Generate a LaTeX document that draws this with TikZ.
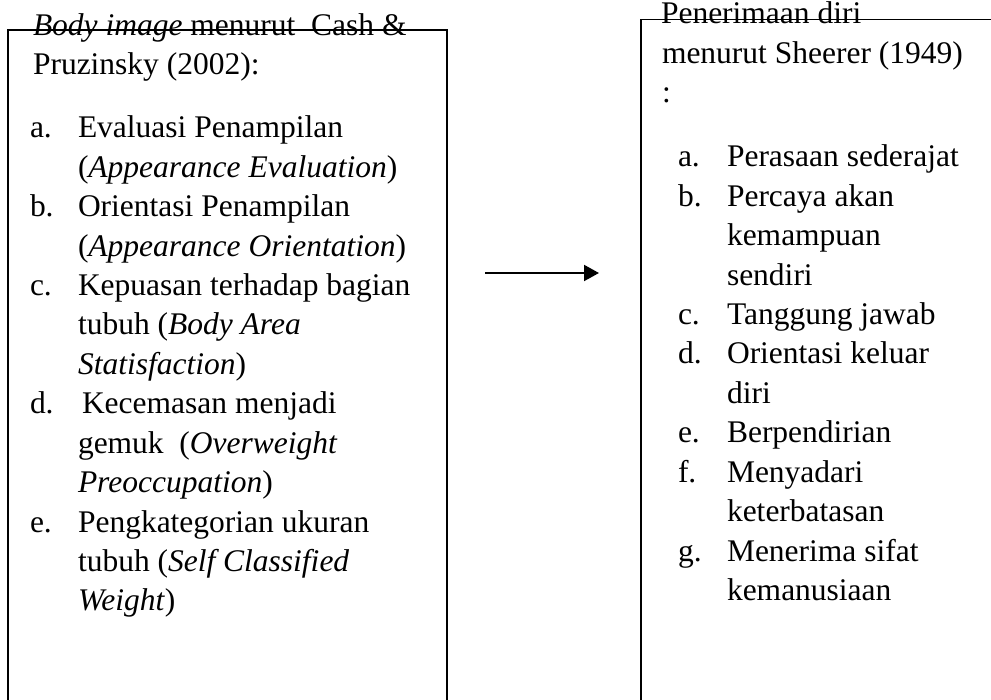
\documentclass[tikz,border=0pt]{standalone}
\usepackage{fontspec}
\setmainfont{Liberation Serif}
\usetikzlibrary{arrows.meta}
\tikzset{
  txt/.style={anchor=base west,inner sep=0pt,outer sep=0pt,font=\fontsize{31.5}{39.4}\selectfont},
  boxline/.style={line width=1.8pt,black},
  conn/.style={line width=2pt,-{Triangle[length=15pt,width=16pt]}}
}
\begin{document}
\begin{tikzpicture}[x=1pt,y=-1pt]
\useasboundingbox (0,0) rectangle (991,700);
\clip (0,0) rectangle (991,700);
\fill[white] (0,0) rectangle (991,700);
% boxes
\draw[boxline] (8,740) -- (8,30) -- (447,30) -- (447,740);
\draw[boxline] (641,740) -- (641,19.5) -- (1020,19.5);
% left text
\node[txt] (lh1) at (33,36) {\textit{Body image} menurut\ \ Cash \&};
\node[txt] (lh2) at (33,75) {Pruzinsky (2002):};
\node[txt] (la) at (30,138) {a.};
\node[txt] (la1) at (78,138) {Evaluasi Penampilan};
\node[txt] (la2) at (78,177.4) {(\textit{Appearance Evaluation})};
\node[txt] (lb) at (30,216.8) {b.};
\node[txt] (lb1) at (78,216.8) {Orientasi Penampilan};
\node[txt] (lb2) at (78,256.2) {(\textit{Appearance Orientation})};
\node[txt] (lc) at (30,295.6) {c.};
\node[txt] (lc1) at (78,295.6) {Kepuasan terhadap bagian};
\node[txt] (lc2) at (78,335) {tubuh (\textit{Body Area}};
\node[txt] (lc3) at (78,374.4) {\textit{Statisfaction})};
\node[txt] (ld) at (30,413.8) {d.};
\node[txt] (ld1) at (82,413.8) {Kecemasan menjadi};
\node[txt] (ld2) at (78,453.2) {gemuk\ \ (\textit{Overweight}};
\node[txt] (ld3) at (78,492.6) {\textit{Preoccupation})};
\node[txt] (le) at (30,532) {e.};
\node[txt] (le1) at (78,532) {Pengkategorian ukuran};
\node[txt] (le2) at (78,571.4) {tubuh (\textit{Self Classified}};
\node[txt] (le3) at (78,610.8) {\textit{Weight})};
% right text
\node[txt] (rh1) at (661,24) {Penerimaan diri};
\node[txt] (rh2) at (662,63.4) {menurut Sheerer (1949)};
\node[txt] (rh3) at (662,102.8) {:};
\node[txt] (ra) at (678,167) {a.};
\node[txt] (ra1) at (727,167) {Perasaan sederajat};
\node[txt] (rb) at (678,206.4) {b.};
\node[txt] (rb1) at (727,206.4) {Percaya akan};
\node[txt] (rb2) at (727,245.8) {kemampuan};
\node[txt] (rb3) at (727,285.2) {sendiri};
\node[txt] (rc) at (678,324.6) {c.};
\node[txt] (rc1) at (727,324.6) {Tanggung jawab};
\node[txt] (rd) at (678,364) {d.};
\node[txt] (rd1) at (727,364) {Orientasi keluar};
\node[txt] (rd2) at (727,403.4) {diri};
\node[txt] (re) at (678,442.8) {e.};
\node[txt] (re1) at (727,442.8) {Berpendirian};
\node[txt] (rf) at (678,482.2) {f.};
\node[txt] (rf1) at (727,482.2) {Menyadari};
\node[txt] (rf2) at (727,521.6) {keterbatasan};
\node[txt] (rg) at (678,561) {g.};
\node[txt] (rg1) at (727,561) {Menerima sifat};
\node[txt] (rg2) at (727,600.4) {kemanusiaan};
% arrow
\coordinate (arS) at (485,273);
\coordinate (arE) at (599,273);
\draw[conn] (arS) -- (arE);
\end{tikzpicture}
\end{document}
